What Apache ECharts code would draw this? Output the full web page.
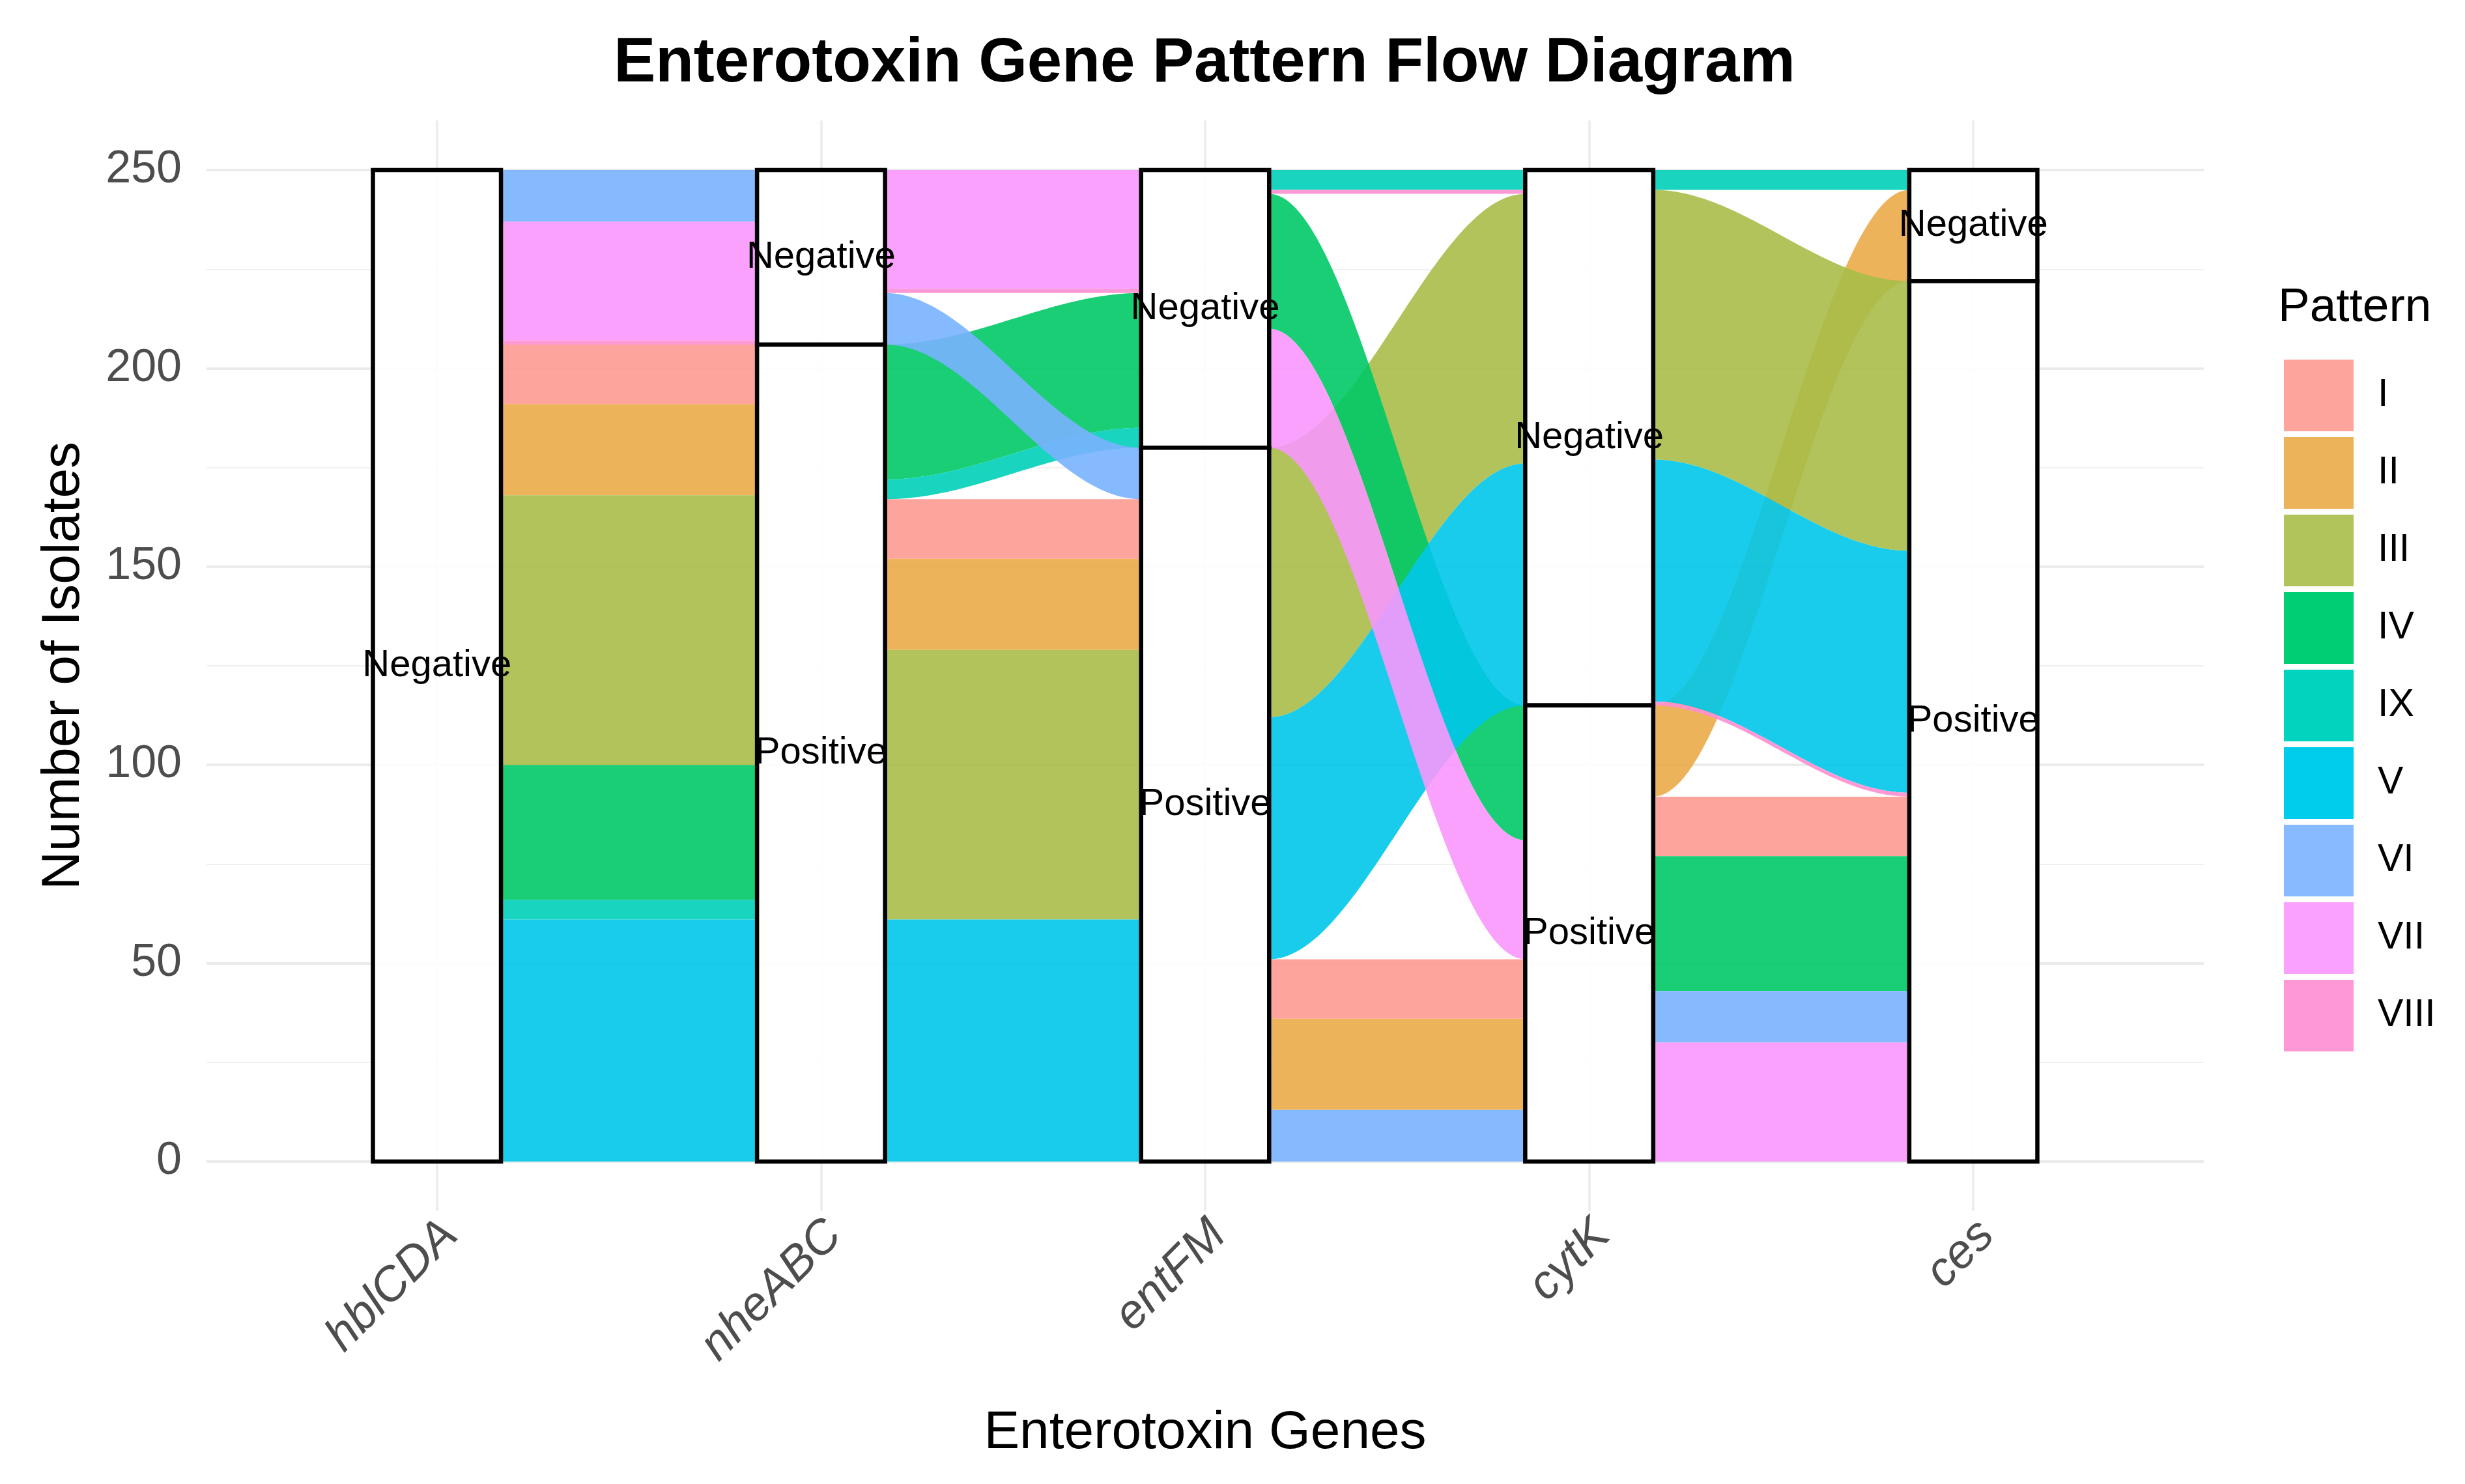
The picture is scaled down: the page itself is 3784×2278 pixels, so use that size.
<!DOCTYPE html>
<html>
<head>
<meta charset="utf-8">
<script src="https://cdn.jsdelivr.net/npm/echarts@6/dist/echarts.min.js"></script>
<style>
html,body{margin:0;padding:0;background:#ffffff;}
#chart{width:3784px;height:2278px;}
</style>
</head>
<body>
<div id="chart"></div>
<script>
// ---------------- data ----------------
const genes = ['hblCDA', 'nheABC', 'entFM', 'cytK', 'ces'];
const patterns = ['I', 'II', 'III', 'IV', 'IX', 'V', 'VI', 'VII', 'VIII'];
const isolateCounts = [15, 23, 68, 34, 5, 61, 13, 30, 1];
const hblCDA = ['Negative', 'Negative', 'Negative', 'Negative', 'Negative', 'Negative', 'Negative', 'Negative', 'Negative'];
const nheABC = ['Positive', 'Positive', 'Positive', 'Positive', 'Positive', 'Positive', 'Negative', 'Negative', 'Negative'];
const entFM  = ['Positive', 'Positive', 'Positive', 'Negative', 'Negative', 'Positive', 'Positive', 'Negative', 'Negative'];
const cytK   = ['Positive', 'Positive', 'Negative', 'Positive', 'Negative', 'Negative', 'Positive', 'Positive', 'Negative'];
const ces    = ['Positive', 'Negative', 'Positive', 'Positive', 'Negative', 'Positive', 'Positive', 'Positive', 'Positive'];
const strataLevels = ['Negative', 'Positive']; // stacked top to bottom
const yTicks = [0, 50, 100, 150, 200, 250];
const yMinorTicks = [25, 75, 125, 175, 225];
const xTicks = [1, 2, 3, 4, 5];

// ---------------- styles ----------------
const patternColors = ['#FDA49C', '#EDB35B', '#B1C45A', '#00CE74', '#00D4BE', '#00CDEB', '#86BBFF', '#F9A1FC', '#FF99D6'];
const FLOW_ALPHA = 0.9;
const HALF_W = 1 / 6;   // stratum half width (axis units)
const KNOT = 0.35;
const LABEL_SHIFT = 0.035;
const FONT = '"Liberation Sans", Arial, Helvetica, sans-serif';

function flowFill(hex) {
  const v = [1, 3, 5].map(i => parseInt(hex.substr(i, 2), 16));
  const b = v.map(c => Math.max(0, Math.min(255, Math.round((c - 255 * (1 - FLOW_ALPHA)) / FLOW_ALPHA))));
  return 'rgba(' + b.join(',') + ',' + FLOW_ALPHA + ')';
}

// ---------------- layout computation (ggalluvial-like) ----------------
const status = [hblCDA, nheABC, entFM, cytK, ces];
const total = isolateCounts.reduce((a, b) => a + b, 0);

function stratumRanges(g) {
  let top = total;
  const r = {};
  strataLevels.forEach(s => {
    let n = 0;
    isolateCounts.forEach((c, i) => { if (status[g][i] === s) n += c; });
    r[s] = [top - n, top];
    top -= n;
  });
  return r;
}

function stackSide(g, other) {
  const r = stratumRanges(g);
  const out = {};
  strataLevels.forEach(s => {
    const idx = patterns.map((p, i) => i).filter(i => status[g][i] === s);
    idx.sort((a, b) => {
      const d = strataLevels.indexOf(status[other][a]) - strataLevels.indexOf(status[other][b]);
      return d !== 0 ? d : a - b;
    });
    let y = r[s][1];
    idx.forEach(i => { out[i] = [y - isolateCounts[i], y]; y -= isolateCounts[i]; });
  });
  return out;
}

const flowData = patterns.map(() => []);
for (let a = 0; a < genes.length - 1; a++) {
  const b = a + 1;
  const L = stackSide(a, b);
  const R = stackSide(b, a);
  patterns.forEach((p, i) => {
    flowData[i].push([a + 1 + HALF_W, b + 1 - HALF_W, L[i][1], L[i][0], R[i][1], R[i][0]]);
  });
}

const strataData = [];
genes.forEach((g, gi) => {
  const r = stratumRanges(gi);
  strataLevels.forEach((s, si) => {
    if (r[s][1] - r[s][0] > 0) strataData.push([gi + 1, r[s][0], r[s][1], si]);
  });
});

function bez(x0, y0, x1, y1, t) {
  const g = x1 - x0, c1 = x0 + KNOT * g, c2 = x1 - KNOT * g, m = 1 - t;
  return [
    m * m * m * x0 + 3 * m * m * t * c1 + 3 * m * t * t * c2 + t * t * t * x1,
    m * m * m * y0 + 3 * m * m * t * y0 + 3 * m * t * t * y1 + t * t * t * y1
  ];
}

function makeFlowRender(color) {
  const fill = flowFill(color);
  return function (params, api) {
    const x0 = api.value(0), x1 = api.value(1);
    const lt = api.value(2), lb = api.value(3), rt = api.value(4), rb = api.value(5);
    const N = 60, pts = [];
    for (let k = 0; k <= N; k++) pts.push(api.coord(bez(x0, lt, x1, rt, k / N)));
    for (let k = N; k >= 0; k--) pts.push(api.coord(bez(x0, lb, x1, rb, k / N)));
    return { type: 'polygon', shape: { points: pts }, style: { fill: fill, stroke: null } };
  };
}

const series = patterns.map((p, i) => ({
  type: 'custom',
  name: p,
  silent: true,
  clip: false,
  itemStyle: { color: patternColors[i] },
  encode: { x: [0, 1], y: [2, 3, 4, 5] },
  renderItem: makeFlowRender(patternColors[i]),
  data: flowData[i]
}));

series.push({
  type: 'custom',
  name: 'strata',
  silent: true,
  clip: false,
  encode: { x: 0, y: [1, 2] },
  renderItem: function (params, api) {
    const gx = api.value(0), lo = api.value(1), hi = api.value(2), si = api.value(3);
    const p1 = api.coord([gx - HALF_W, hi]);
    const p2 = api.coord([gx + HALF_W, lo]);
    const c = api.coord([gx, (lo + hi) / 2]);
    return {
      type: 'group',
      children: [
        { type: 'rect', shape: { x: p1[0], y: p1[1], width: p2[0] - p1[0], height: p2[1] - p1[1] },
          style: { fill: 'rgba(255,255,255,0.9)', stroke: '#000000', lineWidth: 6.5 } },
        { type: 'text', style: { text: strataLevels[si], x: c[0], y: c[1], align: 'center', verticalAlign: 'middle',
          textAlign: 'center', textVerticalAlign: 'middle', fontSize: 58, fontFamily: FONT, fill: '#000000' } }
      ]
    };
  },
  data: strataData
});

const option = {
  backgroundColor: '#ffffff',
  animation: false,
  grid: { left: 317, right: 401, top: 185, bottom: 419, containLabel: false },
  graphic: [
    { type: 'text', x: 1849, y: 99, silent: true,
      style: { text: 'Enterotoxin Gene Pattern Flow Diagram', align: 'center', verticalAlign: 'middle',
        textAlign: 'center', textVerticalAlign: 'middle', fontSize: 96, fontWeight: 'bold', fontFamily: FONT, fill: '#000000' } },
    { type: 'text', x: 3497, y: 473, silent: true,
      style: { text: 'Pattern', align: 'left', verticalAlign: 'middle', textAlign: 'left', textVerticalAlign: 'middle',
        fontSize: 73, fontFamily: FONT, fill: '#000000' } }
  ],
  legend: {
    data: patterns,
    orient: 'vertical',
    left: 3501,
    top: 547,
    icon: 'rect',
    itemWidth: 107,
    itemHeight: 110,
    itemGap: 9,
    selectedMode: false,
    textStyle: { fontSize: 59, fontFamily: FONT, color: '#000000', padding: [0, 0, 0, 32] }
  },
  xAxis: {
    type: 'value', min: 0.4, max: 5.6,
    axisLine: { show: false },
    axisTick: { show: false, customValues: xTicks },
    axisLabel: { customValues: xTicks.map(v => v + LABEL_SHIFT), formatter: v => genes[Math.round(v) - 1], rotate: 45, fontStyle: 'italic',
      fontSize: 73, fontFamily: FONT, color: '#4D4D4D', margin: 26 },
    splitLine: { show: true, lineStyle: { color: '#EBEBEB', width: 3.5 } },
    name: 'Enterotoxin Genes', nameLocation: 'middle', nameGap: 300,
    nameTextStyle: { fontSize: 82, fontFamily: FONT, color: '#000000' }
  },
  yAxis: [
    {
      type: 'value', min: -12.5, max: 262.5,
      axisLine: { show: false },
      axisTick: { show: false, customValues: yTicks },
      axisLabel: { customValues: yTicks, fontSize: 70, fontFamily: FONT, color: '#4D4D4D', margin: 38 },
      splitLine: { show: true, lineStyle: { color: '#EBEBEB', width: 4 } },
      name: 'Number of Isolates', nameLocation: 'middle', nameGap: 178, nameRotate: 90,
      nameTextStyle: { fontSize: 82, fontFamily: FONT, color: '#000000' }
    },
    {
      type: 'value', min: -12.5, max: 262.5, position: 'left',
      axisLine: { show: false },
      axisTick: { show: false, customValues: yMinorTicks },
      axisLabel: { show: false, customValues: yMinorTicks },
      splitLine: { show: true, lineStyle: { color: '#F0F0F0', width: 2 } }
    }
  ],
  series: series
};

const chart = echarts.init(document.getElementById('chart'));
chart.setOption(option);
</script>
</body>
</html>
